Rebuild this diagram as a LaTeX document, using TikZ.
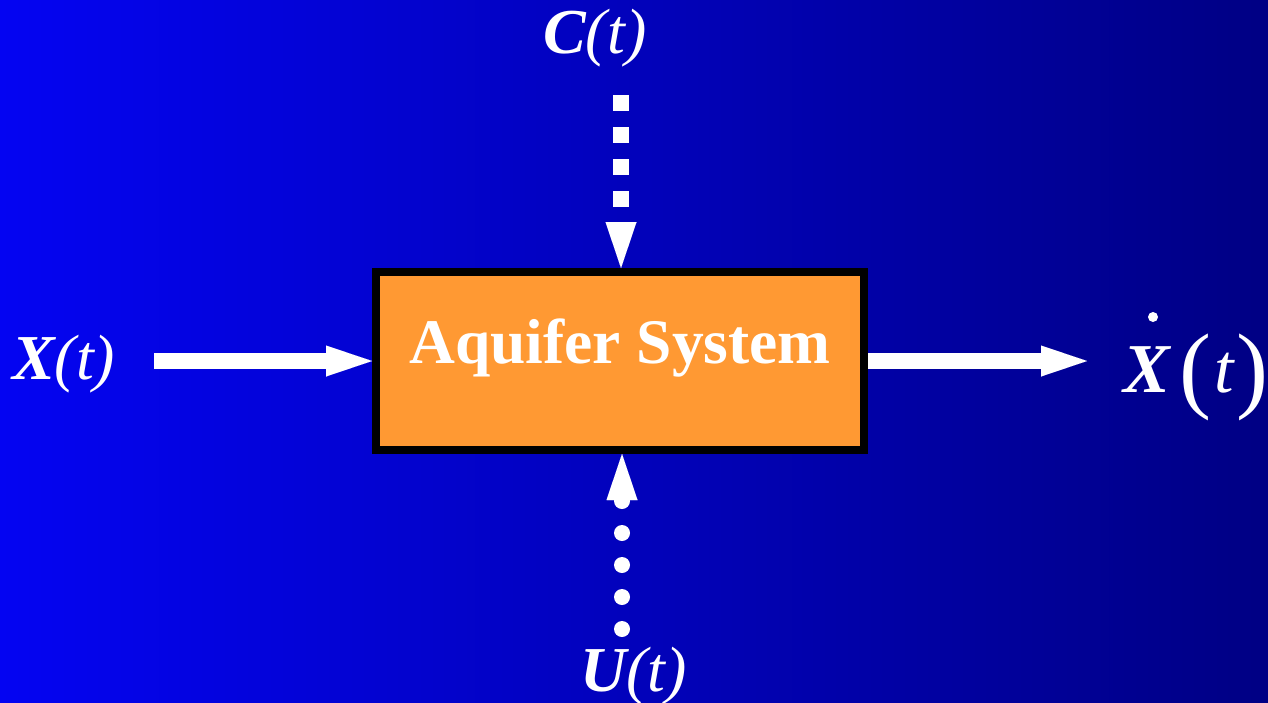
\documentclass[tikz,border=0pt]{standalone}
\usepackage{fontspec}
\setmainfont{Liberation Serif}
\usetikzlibrary{arrows.meta}
\definecolor{bgleft}{RGB}{4,4,242}
\definecolor{bgright}{RGB}{0,0,132}
\definecolor{boxorange}{RGB}{255,153,51}
\tikzset{
  lbl/.style={text=white, inner sep=0pt, anchor=base west, font=\fontsize{64}{64}\selectfont},
  bigtip/.style={-{Triangle[length=46pt,width=31pt,line width=0.01pt]}},
  flow/.style={draw=white, line width=16pt, bigtip},
  dashflow/.style={flow, dash pattern=on 16pt off 16pt},
  dotflow/.style={flow, line cap=round, dash pattern=on 0pt off 32pt},
  sysbox/.style={draw=black, line width=8pt, fill=boxorange, minimum width=488pt, minimum height=178pt, inner sep=0pt}
}
\begin{document}
\begin{tikzpicture}[x=1pt,y=-1pt]
\useasboundingbox (0,0) rectangle (1268,702);
\shade[left color=bgleft, right color=bgright] (0,0) rectangle (1268,702);
\node[sysbox] (box) at (620,361) {};
\node[text=white, inner sep=0pt, anchor=base, font=\fontsize{63.5}{64}\selectfont\bfseries] (boxtext) at (620,363) {Aquifer System};
\node[lbl] (C) at (543,53) {{\bfseries\itshape C}{\itshape(t)}};
\node[lbl] (X) at (12,379) {{\bfseries\itshape X}{\itshape(t)}};
\node[lbl] (U) at (580,691) {{\bfseries\itshape U}{\itshape(t)}};
\node[lbl, font=\fontsize{70}{70}\selectfont] (Xd) at (1123,392) {{\bfseries\itshape X}\hspace{10pt}\raisebox{-8pt}{\fontsize{96}{96}\selectfont(}\hspace{3pt}{\itshape t}\hspace{2pt}\raisebox{-8pt}{\fontsize{96}{96}\selectfont)}};
\fill[white] (1153,317) circle[radius=5];
\coordinate (cstart) at (621,95);
\coordinate (ustart) at (622,629);
\coordinate (xstart) at (154,361);
\coordinate (xend) at (1087,361);
\draw[dashflow] (cstart) -- (cstart |- box.north);
\draw[dotflow] (ustart) -- (ustart |- box.south);
\draw[flow] (xstart) -- (box.west);
\draw[flow] (box.east) -- (xend);
\end{tikzpicture}
\end{document}
